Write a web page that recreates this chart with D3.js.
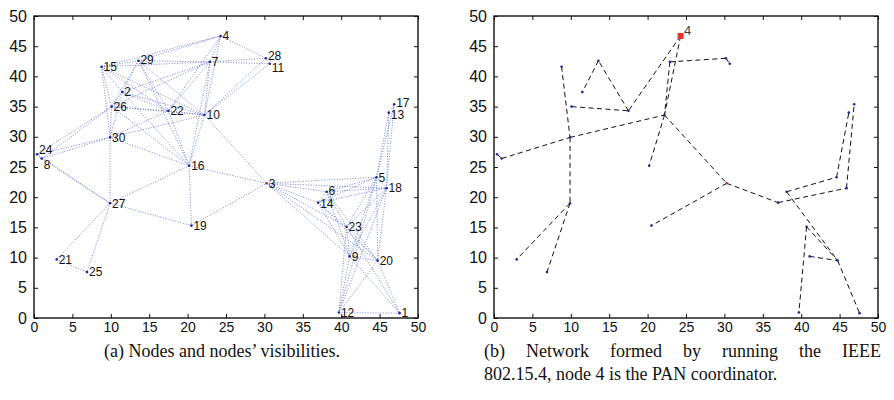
<!DOCTYPE html>
<html>
<head>
<meta charset="utf-8">
<script src="https://cdn.jsdelivr.net/npm/d3@7"></script>
<style>
  body { margin: 0; background: #fff; }
  svg { display: block; }
  .axis text { font-family: "Liberation Sans", Arial, sans-serif; fill: #111; }
  .axis line { stroke: #111; }
  .lbl { font-family: "Liberation Sans", Arial, sans-serif; font-size: 12px; fill: #111; }
  .caption { font-family: "Liberation Serif", "Times New Roman", serif; font-size: 18px; fill: #111; }
</style>
</head>
<body>
<svg id="chart" width="894" height="400"></svg>
<script>
// node positions (metres)
const nodeIds = [1, 2, 3, 4, 5, 6, 7, 8, 9, 10, 11, 12, 13, 14, 15,
    16, 17, 18, 19, 20, 21, 22, 23, 24, 25, 26, 27, 28, 29, 30]
const nodeX = [47.6, 11.5, 30.3, 24.3, 44.6, 38.1, 22.9, 1.0, 41.1, 22.2, 30.7, 39.7, 46.2, 37.0, 8.8,
    20.2, 46.9, 45.9, 20.5, 44.75, 2.95, 17.5, 40.7, 0.4, 6.9, 10.1, 9.9, 30.2, 13.6, 9.9]
const nodeY = [0.8, 37.4, 22.3, 46.7, 23.3, 20.9, 42.4, 26.4, 10.2, 33.6, 42.1, 0.9, 34.0, 19.1, 41.6,
    25.2, 35.4, 21.5, 15.3, 9.5, 9.7, 34.3, 15.1, 27.1, 7.6, 35.0, 19.0, 43.0, 42.6, 29.9]

// (a) which nodes can hear each other
const visEdges = [
    [15, 29], [15, 7], [15, 2], [15, 26], [15, 30], [15, 22], [15, 10],
    [29, 7], [29, 4], [29, 2], [29, 26], [29, 22], [29, 10], [29, 16],
    [7, 4], [7, 28], [7, 11], [7, 2], [7, 26], [7, 22], [7, 10], [7, 16],
    [4, 28], [4, 10], [4, 22], [4, 15],
    [28, 10], [11, 10], [28, 11],
    [2, 26], [2, 22], [2, 10], [2, 30], [2, 16],
    [26, 22], [26, 10], [26, 24], [26, 8], [26, 30], [26, 16],
    [22, 10], [22, 16], [22, 30],
    [30, 24], [30, 8], [30, 10], [30, 16], [30, 27],
    [24, 8], [24, 27], [8, 27],
    [16, 27], [16, 19], [16, 3], [16, 10],
    [27, 21], [27, 25], [27, 19], [21, 25],
    [19, 3], [10, 3],
    [3, 5], [3, 6], [3, 14], [3, 18], [3, 23], [3, 9], [3, 20],
    [6, 5], [6, 18], [6, 14], [6, 23], [6, 9], [6, 20],
    [14, 5], [14, 18], [14, 23], [14, 9], [14, 20],
    [5, 18], [5, 13], [5, 17], [5, 23], [5, 9], [5, 20], [5, 12],
    [18, 13], [18, 17], [18, 23], [18, 20], [18, 9], [18, 12],
    [13, 17],
    [23, 9], [23, 20], [23, 12], [23, 1],
    [9, 20], [9, 12], [9, 1],
    [20, 12], [20, 1], [12, 1]
]

// (b) tree built by 802.15.4 association
const treeEdges = [
    [4, 22], [4, 10], [22, 29], [29, 2], [26, 22], [15, 30], [8, 30], [24, 8],
    [30, 10], [30, 27], [27, 21], [27, 25], [7, 10], [7, 28], [28, 11],
    [10, 16], [10, 3], [3, 19], [3, 14], [6, 5], [14, 18], [5, 13], [18, 17],
    [6, 20], [23, 20], [20, 1], [9, 20], [23, 12]
]

const coordinator = 4
const tickVals = [0, 5, 10, 15, 20, 25, 30, 35, 40, 45, 50]
const captionA = '(a) Nodes and nodes\u2019 visibilities.'
const captionB = ['(b) Network formed by running the IEEE', '802.15.4, node 4 is the PAN coordinator.']

const nodes = nodeIds.map((id, i) => ({ id, x: nodeX[i], y: nodeY[i] }))
const byId = new Map(nodes.map(n => [n.id, n]))

// small nudges for labels that sit off-centre in the picture
const labelNudge = { 24: -5, 8: 6, 28: -3, 11: 4, 17: -2, 13: 2, 29: -1, 6: -1, 14: 1 }

const svg = d3.select('#chart')

const y = d3.scaleLinear().domain([0, 50]).range([318, 16])

function drawFrame (g, x) {
    g.append('g').attr('class', 'axis')
        .attr('transform', `translate(0,${y(0)})`)
        .style('font-size', '14px')
        .call(d3.axisBottom(x).tickValues(tickVals).tickSizeInner(-4).tickSizeOuter(0).tickPadding(4))
    g.append('g').attr('class', 'axis')
        .attr('transform', `translate(0,${y(50)})`)
        .call(d3.axisTop(x).tickValues(tickVals).tickSizeInner(-4).tickSizeOuter(0).tickFormat(''))
    g.append('g').attr('class', 'axis')
        .attr('transform', `translate(${x(0)},0)`)
        .style('font-size', '16px')
        .call(d3.axisLeft(y).tickValues(tickVals).tickSizeInner(-4).tickSizeOuter(0).tickPadding(7))
    g.append('g').attr('class', 'axis')
        .attr('transform', `translate(${x(50)},0)`)
        .call(d3.axisRight(y).tickValues(tickVals).tickSizeInner(-4).tickSizeOuter(0).tickFormat(''))
    g.selectAll('.axis .domain').remove()
    g.selectAll('.axis').attr('font-family', null)

    g.append('rect')
        .attr('x', x(0)).attr('y', y(50))
        .attr('width', x(50) - x(0)).attr('height', y(0) - y(50))
        .attr('fill', 'none').attr('stroke', '#111').attr('stroke-width', 1.4)
}

function drawEdges (g, x, edges, style) {
    g.append('g').selectAll('line')
        .data(edges)
        .join('line')
        .attr('x1', d => x(byId.get(d[0]).x))
        .attr('y1', d => y(byId.get(d[0]).y))
        .attr('x2', d => x(byId.get(d[1]).x))
        .attr('y2', d => y(byId.get(d[1]).y))
        .attr('stroke', style.color)
        .attr('stroke-width', style.width)
        .attr('stroke-dasharray', style.dash)
        .attr('stroke-opacity', style.opacity)
}

function drawDots (g, x) {
    g.append('g').selectAll('circle')
        .data(nodes)
        .join('circle')
        .attr('cx', d => x(d.x))
        .attr('cy', d => y(d.y))
        .attr('r', 1.3)
        .attr('fill', d => d.id === 3 ? '#b03030' : '#1a2a9a')
}

// ---- panel (a)
const xA = d3.scaleLinear().domain([0, 50]).range([34, 418])
const gA = svg.append('g')
drawEdges(gA, xA, visEdges, { color: '#5f70cc', width: 1, dash: '1,1.6', opacity: 0.85 })
drawDots(gA, xA)
gA.append('g').selectAll('text')
    .data(nodes)
    .join('text')
    .attr('class', 'lbl')
    .attr('x', d => xA(d.x) + 2)
    .attr('y', d => y(d.y) + (labelNudge[d.id] || 0))
    .attr('dy', '0.36em')
    .text(d => d.id)
drawFrame(gA, xA)

// ---- panel (b)
const xB = d3.scaleLinear().domain([0, 50]).range([494, 878])
const gB = svg.append('g')
drawEdges(gB, xB, treeEdges, { color: '#111', width: 1, dash: '5,3.5', opacity: 1 })
drawDots(gB, xB)
const coord = byId.get(coordinator)
gB.append('rect')
    .attr('x', xB(coord.x) - 3).attr('y', y(coord.y) - 3)
    .attr('width', 6).attr('height', 6)
    .attr('fill', '#e0342c')
gB.append('text')
    .attr('class', 'lbl')
    .attr('x', xB(coord.x) + 3.5)
    .attr('y', y(coord.y) - 1)
    .style('font-size', '13px')
    .style('fill', '#444')
    .text(coordinator)
drawFrame(gB, xB)

// ---- captions
svg.append('text')
    .attr('class', 'caption')
    .attr('x', 222).attr('y', 357)
    .attr('text-anchor', 'middle')
    .text(captionA)

// first line of (b) is justified across the subfigure width
const capLeft = 484
const capRight = 881
const words = captionB[0].split(' ')
const wordEls = words.map(w => svg.append('text').attr('class', 'caption').text(w))
const widths = wordEls.map(t => t.node().getComputedTextLength())
const gap = (capRight - capLeft - d3.sum(widths)) / (words.length - 1)
let cx = capLeft
wordEls.forEach((t, i) => {
    t.attr('x', cx).attr('y', 357)
    cx += widths[i] + gap
})
svg.append('text')
    .attr('class', 'caption')
    .attr('x', capLeft).attr('y', 380)
    .text(captionB[1])
</script>
</body>
</html>
